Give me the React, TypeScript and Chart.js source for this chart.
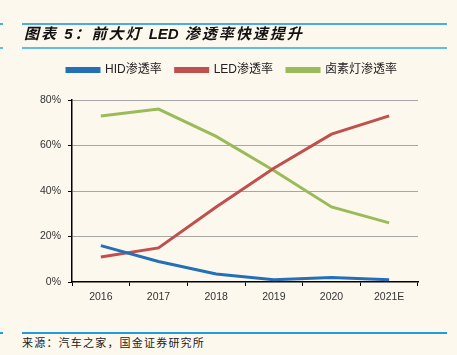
import React, { useEffect, useRef } from "react";
import { Chart, registerables } from "chart.js";

Chart.register(...registerables);

const categories = ["2016", "2017", "2018", "2019", "2020", "2021E"];
const hidRate = [16, 9, 3.5, 1, 2, 1];
const ledRate = [11, 15, 33, 50, 65, 73];
const halogenRate = [73, 76, 64, 49, 33, 26];
const seriesNames = ["HID渗透率", "LED渗透率", "卤素灯渗透率"];
const yTicks = [0, 20, 40, 60, 80];

const BG = "#FCF8EE";
const RULE = "#4AADE2";

export default function App() {
  const ref = useRef<HTMLCanvasElement | null>(null);

  useEffect(() => {
    document.body.style.margin = "0";
    document.body.style.background = BG;
    const canvas = ref.current;
    if (!canvas) return;
    const legendSpacer = {
      id: "legendSpacer",
      beforeUpdate(chart: any) {
        const lg = chart.legend;
        if (lg && !lg._wrapped) {
          const orig = lg.fit;
          lg.fit = function () {
            orig.call(this);
            this.height += 14;
          };
          lg._wrapped = true;
        }
      },
      beforeDraw(chart: any) {
        if (chart.legend) chart.legend.left = 53;
      },
    };
    const tickFont = { family: "'Liberation Sans', Arial, sans-serif", size: 10.5 };
    const chart = new Chart(canvas, {
      type: "line",
      data: {
        labels: categories,
        datasets: [
          { label: seriesNames[0], data: hidRate, borderColor: "#2470B7", backgroundColor: "#2470B7" },
          { label: seriesNames[1], data: ledRate, borderColor: "#C0504D", backgroundColor: "#C0504D" },
          { label: seriesNames[2], data: halogenRate, borderColor: "#9BBB59", backgroundColor: "#9BBB59" },
        ].map((d) => ({ ...d, borderWidth: 3, pointRadius: 0, tension: 0, fill: false })),
      },
      options: {
        responsive: false,
        animation: false,
        devicePixelRatio: 1,
        layout: { padding: { top: 50, left: 22, right: 39, bottom: 0 } },
        plugins: {
          tooltip: { enabled: false },
          legend: {
            position: "top",
            align: "start",
            labels: {
              boxWidth: 32,
              boxHeight: 3,
              padding: 14,
              color: "#222",
              font: { family: "'Liberation Sans', 'Noto Sans CJK SC', sans-serif", size: 12 },
            },
          },
        },
        scales: {
          x: {
            offset: true,
            grid: {
              display: true,
              offset: true,
              drawOnChartArea: false,
              drawTicks: true,
              tickLength: 4,
              tickColor: "#000",
            },
            border: { display: true, color: "#000", width: 1.5 },
            ticks: { color: "#333", font: tickFont, padding: 5, maxRotation: 0 },
            afterFit(axis: any) {
              axis.height = 38;
            },
          },
          y: {
            min: 0,
            max: 80,
            afterBuildTicks(axis: any) {
              axis.ticks = yTicks.map((v) => ({ value: v }));
            },
            grid: {
              color: (ctx: any) => (ctx.tick && ctx.tick.value === 0 ? "rgba(0,0,0,0)" : "#A6A6A6"),
              tickColor: "#000",
              tickLength: 4,
              lineWidth: 1,
            },
            border: { display: true, color: "#000", width: 1.5 },
            ticks: {
              color: "#333",
              font: tickFont,
              padding: 7,
              callback: (v: any) => v + "%",
            },
            afterFit(axis: any) {
              axis.width = 50;
            },
          },
        },
      },
      plugins: [legendSpacer],
    } as any);
    return () => chart.destroy();
  }, []);

  const rule = (top: number, h: number, color: string) => (
    <>
      <div style={{ position: "absolute", left: 0, top, width: 3, height: h, background: color }} />
      <div style={{ position: "absolute", left: 22, top, width: 425, height: h, background: color }} />
    </>
  );

  return (
    <div style={{ position: "relative", width: 457, height: 355, background: BG, overflow: "hidden" }}>
      <canvas ref={ref} width={457} height={320} style={{ position: "absolute", left: 0, top: 0, width: 457, height: 320 }} />
      {rule(23, 1.5, RULE)}
      {rule(47, 2, "#62BCEA")}
      <div
        style={{
          position: "absolute",
          left: 24,
          top: 24,
          fontFamily: "'Liberation Sans', 'Noto Sans CJK SC', sans-serif",
          fontSize: 15,
          fontWeight: "bold",
          fontStyle: "italic",
          letterSpacing: 2,
          color: "#111",
          whiteSpace: "nowrap",
          lineHeight: "20px",
        }}
      >
        图表 5：前大灯 <span style={{ letterSpacing: 0 }}>LED</span> 渗透率快速提升
      </div>
      {rule(331.5, 2, "#1E9DDA")}
      <div
        style={{
          position: "absolute",
          left: 22,
          top: 335,
          fontFamily: "'Noto Sans CJK SC', sans-serif",
          fontSize: 11,
          letterSpacing: 1.2,
          color: "#222",
          whiteSpace: "nowrap",
          lineHeight: "15px",
        }}
      >
        来源：汽车之家，国金证券研究所
      </div>
    </div>
  );
}
